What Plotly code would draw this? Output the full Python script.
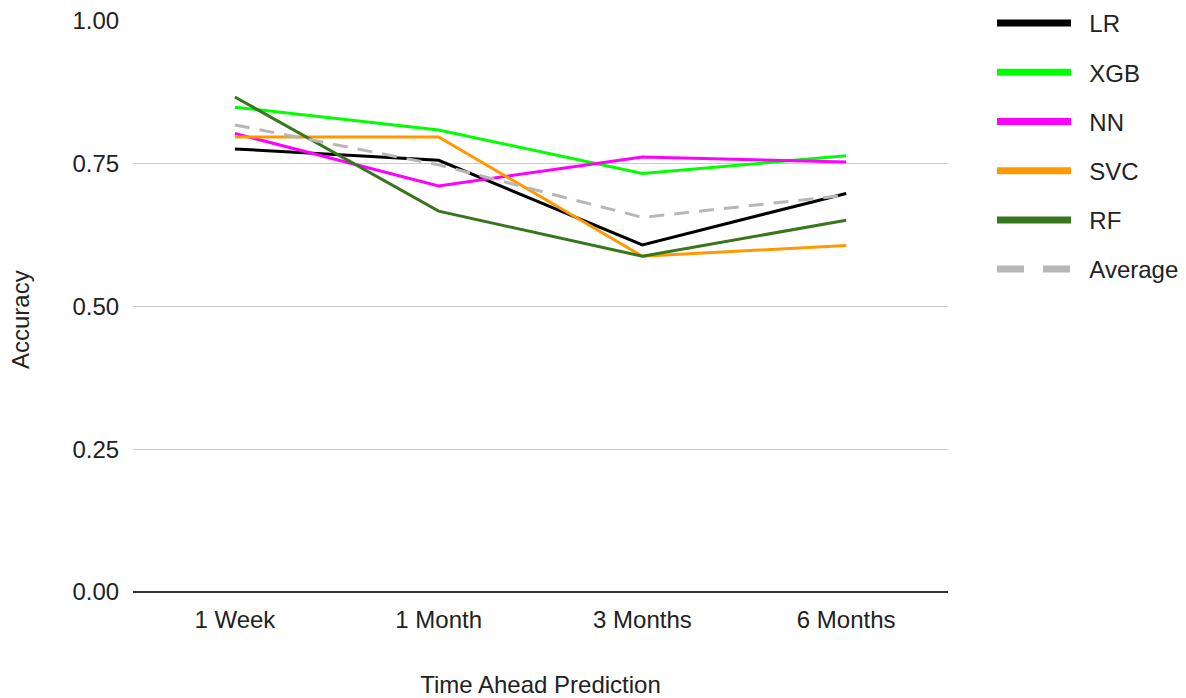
import plotly.graph_objects as go

horizons = ["1 Week", "1 Month", "3 Months", "6 Months"]

lr = [0.776, 0.756, 0.608, 0.698]
xgb = [0.849, 0.809, 0.733, 0.764]
nn = [0.803, 0.711, 0.762, 0.753]
svc = [0.797, 0.797, 0.588, 0.607]
rf = [0.867, 0.667, 0.588, 0.651]
average = [0.818, 0.748, 0.656, 0.695]

y_ticks = [0.0, 0.25, 0.5, 0.75, 1.0]
y_tick_text = ["0.00", "0.25", "0.50", "0.75", "1.00"]

series = [
    ("LR", lr, "#000000", "solid"),
    ("XGB", xgb, "#00ff00", "solid"),
    ("NN", nn, "#ff00ff", "solid"),
    ("SVC", svc, "#ff9900", "solid"),
    ("RF", rf, "#38761d", "solid"),
    ("Average", average, "#b7b7b7", "15px,10px"),
]

FONT = "Arial, Liberation Sans, sans-serif"
TEXT = "#222222"
SIZE = 24

fig = go.Figure()
for name, vals, color, dash in series:
    fig.add_trace(go.Scatter(
        x=horizons, y=vals, mode="lines", name=name,
        line=dict(color=color, width=3, dash=dash),
        showlegend=False, hoverinfo="x+y+name",
    ))
for name, vals, color, dash in series:
    # thicker swatches for the legend
    fig.add_trace(go.Scatter(
        x=[None], y=[None], mode="lines", name="\u00a0\u00a0" + name,
        line=dict(color=color, width=7,
                  dash="solid" if dash == "solid" else "27px,19px"),
        legendgroup=name, showlegend=True,
    ))

fig.update_layout(
    width=1186, height=698,
    margin=dict(l=133, r=238, t=21, b=106, autoexpand=False),
    paper_bgcolor="white", plot_bgcolor="white",
    font=dict(family=FONT, size=SIZE, color=TEXT),
    legend=dict(
        x=1.054, xanchor="left", xref="paper",
        y=1.035, yanchor="top", yref="paper",
        font=dict(size=SIZE, color=TEXT),
        itemwidth=74, tracegroupgap=15, bgcolor="rgba(0,0,0,0)",
    ),
    xaxis=dict(
        type="category", range=[-0.5, 3.5],
        showgrid=False, ticks="outside", ticklen=6, tickcolor="white",
        title=dict(text="Time Ahead Prediction", standoff=54,
                   font=dict(size=SIZE, color=TEXT)),
        showline=False, zeroline=False,
    ),
    yaxis=dict(
        range=[0, 1.0], tickvals=y_ticks, ticktext=y_tick_text,
        showgrid=True, gridcolor="#cccccc", gridwidth=1,
        ticks="outside", ticklen=8, tickcolor="white",
        zeroline=True, zerolinecolor="#333333", zerolinewidth=2,
    ),
    annotations=[dict(
        text="Accuracy", textangle=-90, showarrow=False,
        xref="paper", yref="paper", x=-0.1387, y=0.478,
        xanchor="center", yanchor="middle",
        font=dict(size=SIZE, color=TEXT),
    )],
)

fig.write_html("out.html")
